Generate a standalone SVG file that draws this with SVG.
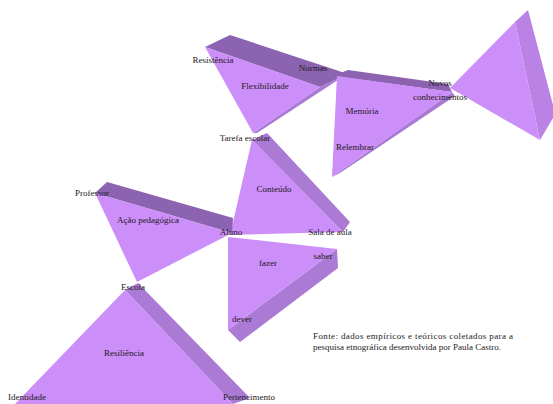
<svg xmlns="http://www.w3.org/2000/svg" width="553" height="404" viewBox="0 0 553 404">
<style>
.f{fill:#cc8ef8}
.d{fill:#8c63b0}
.s{fill:#aa7ad4}
.s2{fill:#b982e4}
text{font-family:"Liberation Serif","Times New Roman",serif;font-size:9px;fill:#1e1a22;text-anchor:middle}
.src{text-anchor:start}
</style>
<rect width="553" height="404" fill="#ffffff"/>
<g id="tri-normas">
<polygon class="s" points="320,87 344,76 257,133 253,133"/>
<polygon class="d" points="205,47 230,35 348,74 320,87"/>
<polygon class="f" points="205,47 320,87 253,133"/>
<text x="213" y="63">Resistência</text>
<text x="313" y="71">Normas</text>
<text x="265" y="89">Flexibilidade</text>
</g>
<g id="tri-memoria">
<polygon class="d" points="333,76 348,70 448,84 452,92"/>
<polygon class="s" points="452,92 455,96 340,173 332,177"/>
<polygon class="f" points="337,76 452,92 332,177"/>
<text x="362" y="114">Memória</text>
<text x="355" y="150">Relembrar</text>
</g>
<g id="tri-novos">
<polygon class="s2" points="515,22 528,10 553,105 553,118 540,140"/>
<polygon class="f" points="450,88 515,22 540,140"/>
<text x="440" y="86">Novos</text>
<text x="440" y="100">conhecimentos</text>
</g>
<g id="tri-conteudo">
<polygon class="f" points="252,140 343,232 230,235"/>
<polygon class="s" points="252,140 267,133 350,222 343,232"/>
<text x="245" y="141">Tarefa escolar</text>
<text x="274" y="192">Conteúdo</text>
<text x="330" y="235">Sala de aula</text>
</g>
<g id="tri-acao">
<polygon class="d" points="95,193 107,182 233,218 232,233"/>
<polygon class="f" points="95,193 232,233 137,282"/>
<text x="92" y="196">Professor</text>
<text x="148" y="223">Ação pedagógica</text>
<text x="231" y="235">Aluno</text>
</g>
<g id="tri-fazer">
<polygon class="s" points="337,249 338,268 240,342 228,330"/>
<polygon class="f" points="228,237 337,249 228,330"/>
<text x="323" y="259">saber</text>
<text x="268" y="266">fazer</text>
<text x="242" y="322">dever</text>
</g>
<g id="tri-escola">
<polygon class="s" points="125,290 138,283 250,398 233,404"/>
<polygon class="f" points="125,290 233,404 15,404"/>
<text x="133" y="290">Escola</text>
<text x="124" y="356">Resiliência</text>
<text x="27" y="400">Identidade</text>
<text x="249" y="400">Pertencimento</text>
</g>
<g id="connectors"></g>
<g id="source">
<text class="src" x="313" y="339" textLength="200" lengthAdjust="spacing">Fonte: dados empíricos e teóricos coletados para a</text>
<text class="src" x="313" y="350">pesquisa etnográfica desenvolvida por Paula Castro.</text>
</g>
</svg>
